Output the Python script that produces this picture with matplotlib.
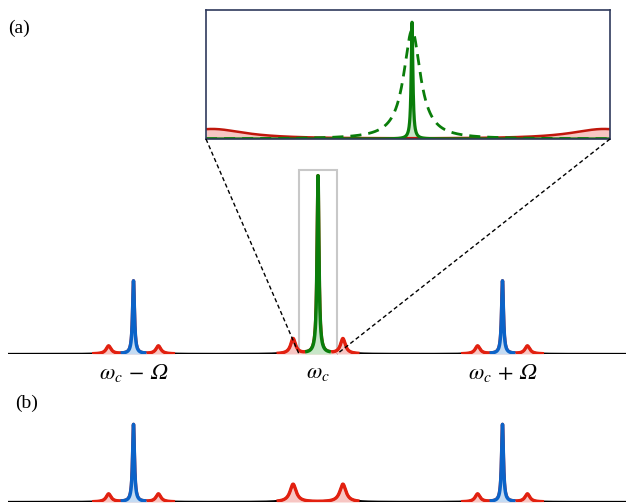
import numpy as np
import matplotlib
matplotlib.use("Agg")
import matplotlib.pyplot as plt
from matplotlib.patches import Rectangle
from matplotlib.lines import Line2D

plt.rcParams['mathtext.fontset'] = 'stix'

# ---------------- data (frequency in units of Omega, omega_c = 0) ----------------
group_centers = [-1.0, 0.0, 1.0]
tick_labels = ['$\\omega_c\\,-\\,\U0001D6FA$', '$\\omega_c$', '$\\omega_c\\,+\\,\U0001D6FA$']
sideband_offset = 0.135

# panel (a)
a_main_heights = [0.41, 1.0, 0.41]          # central peak of each group
a_main_colors = ['#0b63c8', '#0a7d0a', '#0b63c8']
a_main_fills = ['#c5dbf2', '#c8e6c8', '#c5dbf2']
a_side_heights = [0.045, 0.085, 0.045]      # red sideband peaks
a_side_widths = [0.016, 0.016, 0.016]
a_main_width = 0.006

# panel (b)
b_main_heights = [0.435, 0.0, 0.435]
b_side_heights = [0.045, 0.10, 0.045]
b_side_widths = [0.016, 0.02, 0.016]

# inset
inset_solid_center = 0.02
inset_solid_height = 1.0
inset_solid_width = 0.005
inset_dashed_height = 0.93
inset_dashed_width = 0.05
inset_red_centers = [-0.97, 0.97]
inset_red_height = 0.085
inset_red_width = 0.2

RED = '#e3200f'
PINK = '#f7c6c3'


def lor(x, c, h, g):
    return h * g**2 / ((x - c)**2 + g**2)


fig = plt.figure(figsize=(6.26, 5.04), dpi=100)

px_per_unit = 184.5
x0 = -318 / px_per_unit
x1 = (626 - 318) / px_per_unit
y_scale = 178.0  # px per height unit


def draw_panel(ax, main_heights, side_heights, side_widths, main_colors, main_fills):
    x = np.linspace(8 / 626 * (x1 - x0) + x0, x1, 6000)
    total = np.zeros_like(x)
    for c, mh, sh, sw in zip(group_centers, main_heights, side_heights, side_widths):
        total += lor(x, c, mh, a_main_width)
        total += lor(x, c - sideband_offset, sh, sw)
        total += lor(x, c + sideband_offset, sh, sw)
    ax.plot(x, total, color='black', lw=1.6, solid_capstyle='butt', zorder=2)
    for i, c in enumerate(group_centers):
        lo = c - sideband_offset - 0.09
        hi = c + sideband_offset + 0.09
        m = (x >= lo) & (x <= hi)
        ax.fill_between(x[m], 0, total[m], color=PINK, lw=0, zorder=1)
        ax.plot(x[m], total[m], color=RED, lw=2.4, zorder=3, solid_capstyle='butt')
        if main_heights[i] > 0:
            mm = (x >= c - 0.07) & (x <= c + 0.07)
            ax.fill_between(x[mm], 0, total[mm], color=main_fills[i], lw=0, zorder=3.5)
            ax.plot(x[mm], total[mm], color=main_colors[i], lw=2.5, zorder=4,
                    solid_capstyle='butt')
    ax.set_xlim(x0, x1)
    ax.axis('off')


# panel (a)
ha = 200
ax_a = fig.add_axes([0, (504 - 354) / 504, 1, ha / 504])
ax_a.set_ylim(0, ha / y_scale)
draw_panel(ax_a, a_main_heights, a_side_heights, a_side_widths, a_main_colors, a_main_fills)

# zoom box
bx0 = (299 - 318) / px_per_unit
bx1 = (337 - 318) / px_per_unit
bh = (355 - 171) / y_scale
ax_a.add_patch(Rectangle((bx0, 0), bx1 - bx0, bh, fill=False, ec='#c8c8c8', lw=1.5,
                         zorder=0.5))

for c, lab in zip(group_centers, tick_labels):
    fig.text((318 + c * px_per_unit) / 626, 1 - 373 / 504, lab, ha='center', va='center',
             fontsize=16)

# panel (b)
hb = 100
ax_b = fig.add_axes([0, 2 / 504, 1, hb / 504])
ax_b.set_ylim(0, hb / y_scale)
draw_panel(ax_b, b_main_heights, b_side_heights, b_side_widths, a_main_colors, a_main_fills)

# inset
il, ir, it, ib = 206, 610, 10, 139
ax_i = fig.add_axes([il / 626, 1 - ib / 504, (ir - il) / 626, (ib - it) / 504])
xi = np.linspace(-1, 1, 4000)
red_i = sum(lor(xi, c, inset_red_height, inset_red_width) for c in inset_red_centers)
ax_i.fill_between(xi, 0, red_i, color=PINK, lw=0)
ax_i.plot(xi, red_i, color='#c0170c', lw=1.8)
ax_i.plot(xi, lor(xi, inset_solid_center, inset_dashed_height, inset_dashed_width),
          color='#0a7d0a', lw=2, ls=(0, (4, 2.5)))
sol = lor(xi, inset_solid_center, inset_solid_height, inset_solid_width)
ax_i.fill_between(xi, 0, sol, color='#c8e6c8', lw=0)
ax_i.plot(xi, sol, color='#0a7d0a', lw=2.3)
ax_i.set_xlim(-1, 1)
ax_i.set_ylim(0, 129 / 117)
ax_i.set_xticks([])
ax_i.set_yticks([])
for s in ax_i.spines.values():
    s.set_color('#2f3a5c')
    s.set_linewidth(1.2)

# connector lines (figure pixel coords)
def fpt(px, py):
    return (px / 626, 1 - py / 504)

for (p0, p1) in [((206, 139), (299, 354)), ((610, 139), (337, 354))]:
    a, b = fpt(*p0), fpt(*p1)
    fig.add_artist(Line2D([a[0], b[0]], [a[1], b[1]], transform=fig.transFigure,
                          color='black', lw=1.0, ls=(0, (3, 2)), zorder=5))

fig.text(8 / 626, 1 - 28 / 504, '(a)', fontsize=14, family='Liberation Serif',
         ha='left', va='center')
fig.text(15 / 626, 1 - 403 / 504, '(b)', fontsize=14, family='Liberation Serif',
         ha='left', va='center')

fig.savefig('out.png', dpi=100)
